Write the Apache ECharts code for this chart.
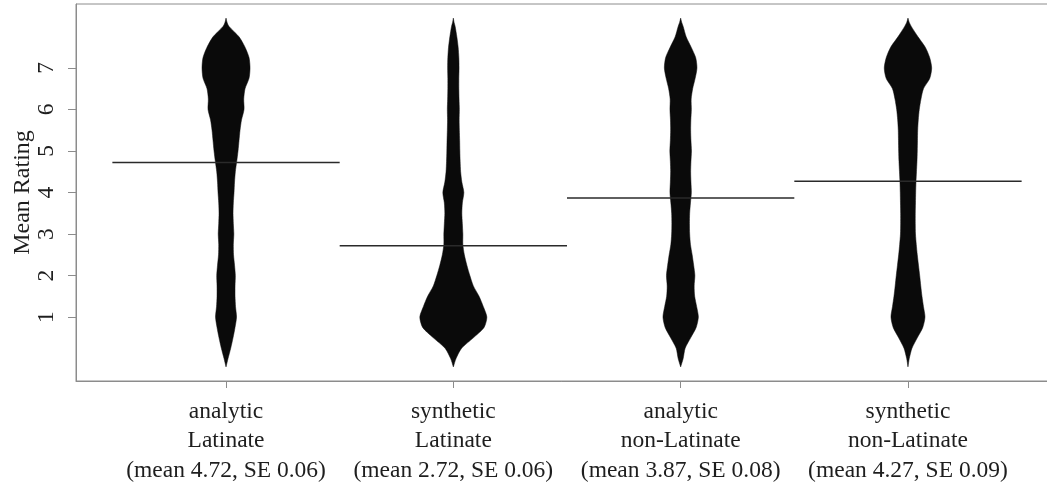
<!DOCTYPE html>
<html>
<head>
<meta charset="utf-8">
<script src="https://cdn.jsdelivr.net/npm/echarts@6/dist/echarts.min.js"></script>
<style>
  html, body { margin: 0; padding: 0; background: #fff; }
  #chart { width: 1047px; height: 486px; }
</style>
</head>
<body>
<div id="chart"></div>
<script>
const ratingGrid = [-0.2, 0, 0.25, 0.5, 0.75, 1, 1.25, 1.5, 1.75, 2, 2.25, 2.5, 2.75, 3, 3.25, 3.5,
  3.75, 4, 4.25, 4.5, 4.75, 5, 5.25, 5.5, 5.75, 6, 6.25, 6.5, 6.75, 7, 7.25, 7.5, 7.75, 8, 8.1, 8.2];

// estimated density of each bean at the ratingGrid levels
const densityAnalyticLatinate = [0, 0.04, 0.094, 0.14, 0.18, 0.21, 0.19, 0.18, 0.18, 0.186, 0.17, 0.15,
  0.146, 0.156, 0.146, 0.14, 0.146, 0.16, 0.17, 0.186, 0.214, 0.24, 0.26, 0.28, 0.31, 0.36, 0.354, 0.38,
  0.46, 0.48, 0.46, 0.38, 0.26, 0.06, 0.02, 0];
const densitySyntheticLatinate = [0, 0.054, 0.166, 0.4, 0.614, 0.67, 0.6, 0.514, 0.4, 0.33, 0.27, 0.22,
  0.19, 0.19, 0.18, 0.17, 0.18, 0.21, 0.17, 0.146, 0.136, 0.13, 0.126, 0.12, 0.116, 0.12, 0.114, 0.11,
  0.11, 0.114, 0.11, 0.096, 0.07, 0.036, 0.014, 0];
const densityAnalyticNonLatinate = [0, 0.05, 0.09, 0.2, 0.31, 0.354, 0.32, 0.28, 0.27, 0.284, 0.26, 0.23,
  0.196, 0.18, 0.176, 0.18, 0.196, 0.214, 0.206, 0.2, 0.206, 0.216, 0.206, 0.2, 0.204, 0.214, 0.21, 0.24,
  0.29, 0.326, 0.3, 0.21, 0.11, 0.05, 0.02, 0];
const densitySyntheticNonLatinate = [0, 0.026, 0.08, 0.186, 0.296, 0.34, 0.31, 0.28, 0.256, 0.234, 0.21,
  0.186, 0.166, 0.15, 0.146, 0.146, 0.15, 0.154, 0.16, 0.17, 0.18, 0.186, 0.19, 0.194, 0.206, 0.226, 0.26,
  0.31, 0.436, 0.474, 0.434, 0.346, 0.2, 0.066, 0.024, 0];

const beanDensities = [densityAnalyticLatinate, densitySyntheticLatinate,
  densityAnalyticNonLatinate, densitySyntheticNonLatinate];

const constructionTypes = ["analytic", "synthetic", "analytic", "synthetic"];
const wordOrigins = ["Latinate", "Latinate", "non-Latinate", "non-Latinate"];
const meanRatings = [4.72, 2.72, 3.87, 4.27];
const standardErrors = [0.06, 0.06, 0.08, 0.09];

const yTickValues = [1, 2, 3, 4, 5, 6, 7];
const xTickValues = [1, 2, 3, 4];

const BEAN_SCALE = 0.22; // density -> half width in x units
const AXIS_GRAY = "#8c8c8c";
const TEXT_COLOR = "#1e1e1e";
const FONT = "'Liberation Serif', 'Times New Roman', serif";

function renderBean(params, api) {
  const idx = params.dataIndex;
  const center = idx + 1;
  const dens = beanDensities[idx];
  const pts = [];
  for (let i = 0; i < ratingGrid.length; i++) {
    pts.push(api.coord([center + dens[i] * BEAN_SCALE, ratingGrid[i]]));
  }
  for (let i = ratingGrid.length - 1; i >= 0; i--) {
    pts.push(api.coord([center - dens[i] * BEAN_SCALE, ratingGrid[i]]));
  }
  return {
    type: "polygon",
    shape: { points: pts, smooth: 0.25 },
    style: { fill: "#0a0a0a", stroke: "#0a0a0a", lineWidth: 0.5 },
  };
}

function renderMeanLine(params, api) {
  const center = api.value(0);
  const m = api.value(1);
  const p1 = api.coord([center - 0.5, m]);
  const p2 = api.coord([center + 0.5, m]);
  return {
    type: "line",
    shape: { x1: p1[0], y1: p1[1], x2: p2[0], y2: p2[1] },
    style: { stroke: "#2a2a2a", lineWidth: 1.5 },
  };
}

const chart = echarts.init(document.getElementById("chart"));

chart.setOption({
  animation: false,
  backgroundColor: "#ffffff",
  grid: {
    left: 76,
    top: 4,
    right: -11,
    bottom: 105,
    show: true,
    borderColor: AXIS_GRAY,
    borderWidth: 1,
    outerBoundsMode: "none",
  },
  xAxis: {
    type: "value",
    min: 0.34,
    max: 4.66,
    splitLine: { show: false },
    axisLine: { show: true, onZero: false, lineStyle: { color: AXIS_GRAY } },
    axisTick: { show: true, customValues: xTickValues, length: 7, lineStyle: { color: AXIS_GRAY } },
    axisLabel: {
      customValues: xTickValues,
      margin: 16,
      fontFamily: FONT,
      fontSize: 23.5,
      lineHeight: 29.5,
      color: TEXT_COLOR,
      formatter: (v) => {
        const i = Math.round(v) - 1;
        return constructionTypes[i] + "\n" + wordOrigins[i] + "\n(mean " +
          meanRatings[i].toFixed(2) + ", SE " + standardErrors[i].toFixed(2) + ")";
      },
    },
  },
  yAxis: {
    type: "value",
    min: -0.54,
    max: 8.54,
    name: "Mean Rating",
    nameLocation: "middle",
    nameRotate: 90,
    nameGap: 41,
    nameMoveOverlap: false,
    nameTextStyle: { fontFamily: FONT, fontSize: 24, color: TEXT_COLOR },
    splitLine: { show: false },
    axisLine: { show: true, onZero: false, lineStyle: { color: AXIS_GRAY } },
    axisTick: { show: true, customValues: yTickValues, length: 8, lineStyle: { color: AXIS_GRAY } },
    axisLabel: {
      customValues: yTickValues,
      rotate: 90,
      margin: 17,
      fontFamily: FONT,
      fontSize: 23.5,
      color: TEXT_COLOR,
    },
  },
  series: [
    {
      type: "custom",
      name: "beans",
      renderItem: renderBean,
      data: beanDensities.map((_, i) => [i + 1]),
      encode: { x: 0 },
      silent: true,
    },
    {
      type: "custom",
      name: "means",
      renderItem: renderMeanLine,
      data: meanRatings.map((m, i) => [i + 1, m]),
      encode: { x: 0, y: 1 },
      silent: true,
      z: 3,
    },
  ],
});
</script>
</body>
</html>
